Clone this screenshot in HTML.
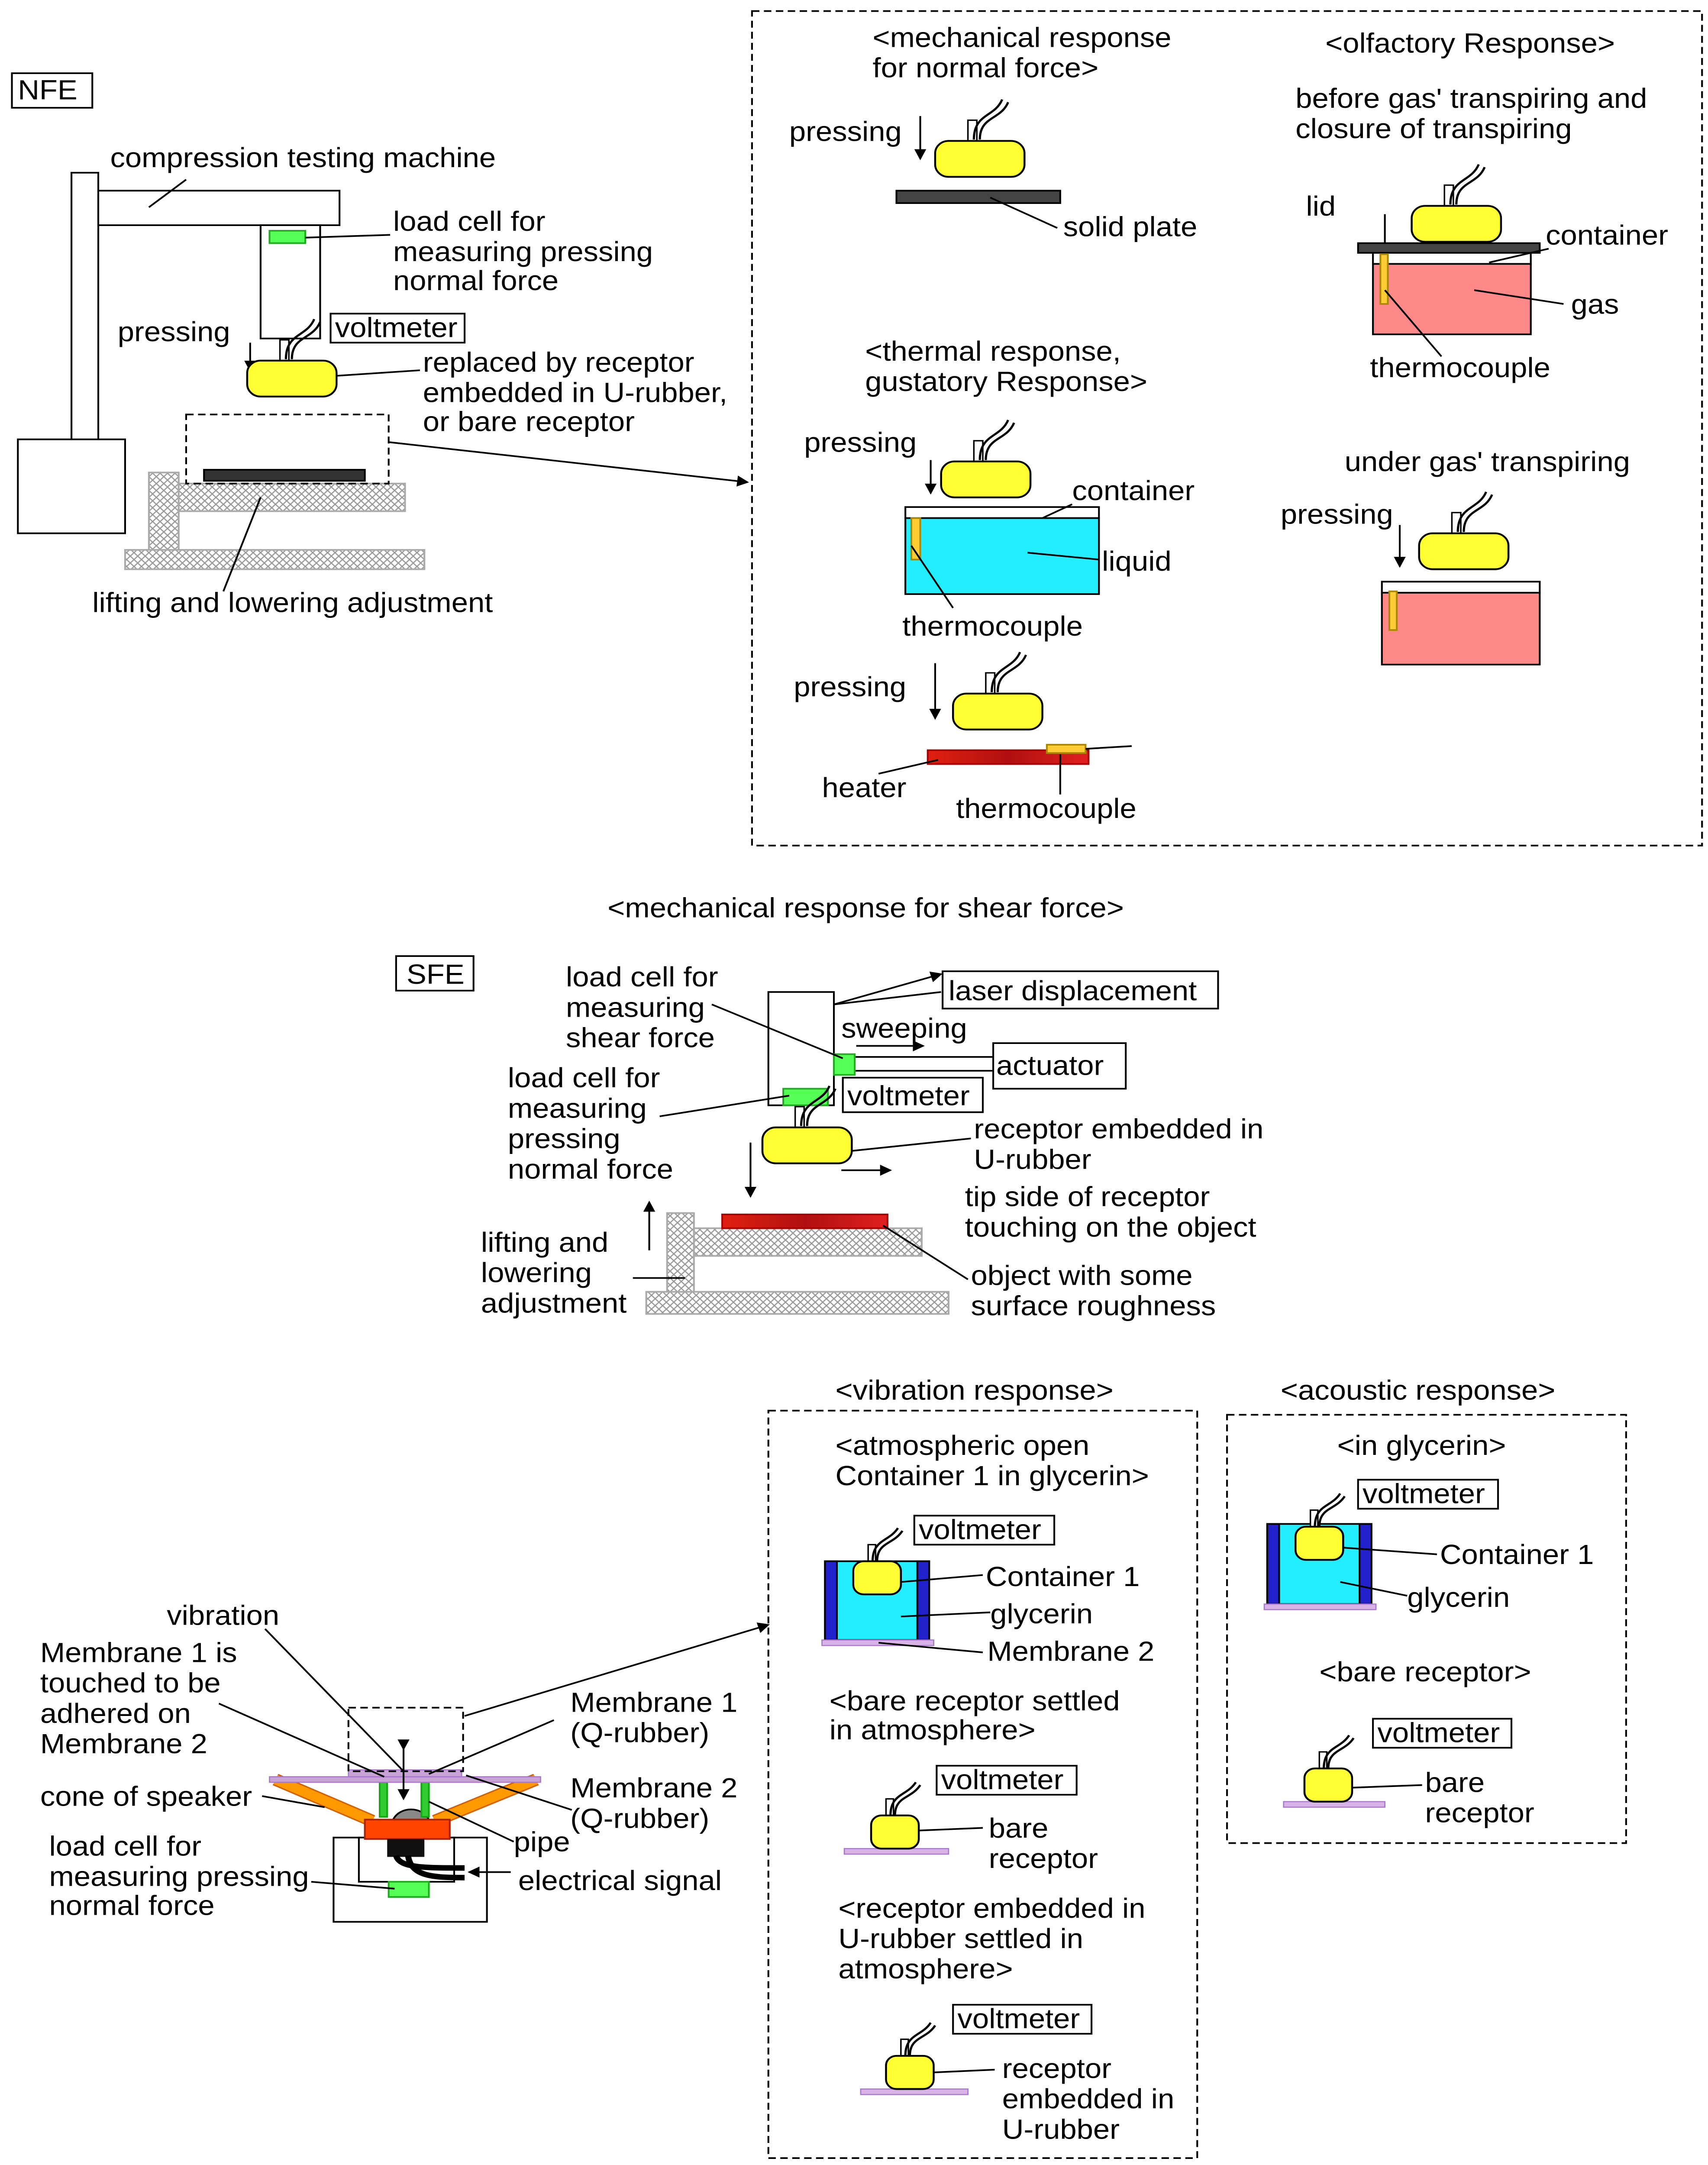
<!DOCTYPE html>
<html><head><meta charset="utf-8"><style>
html,body{margin:0;padding:0;background:#fff;width:100%;height:100%;overflow:hidden;}
svg{display:block;width:100vw;height:100vh;}
text{font-family:"Liberation Sans","Noto Sans CJK JP",sans-serif;font-size:20px;fill:#000;}
</style></head><body>
<svg width="3945" height="5390" viewBox="0 0 1147 1567" preserveAspectRatio="none" xmlns="http://www.w3.org/2000/svg">
<defs>
<pattern id="h" width="5" height="5" patternUnits="userSpaceOnUse">
<rect width="5" height="5" fill="#fff"/>
<path d="M0 0L5 5M5 0L0 5" stroke="#999" stroke-width="0.8"/>
</pattern>
<linearGradient id="red" x1="0" x2="1"><stop offset="0" stop-color="#e02010"/><stop offset="0.5" stop-color="#b01010"/><stop offset="1" stop-color="#e02020"/></linearGradient>
<marker id="a" markerWidth="8" markerHeight="8" refX="7" refY="4" orient="auto" markerUnits="userSpaceOnUse"><path d="M0 0L8 4L0 8z" fill="#000"/></marker>
<g id="rec">
<path d="M-8 -12 L-8 -28 L-2 -28 L-2 -12" fill="#fff" stroke="#000" stroke-width="1"/>
<path d="M-4 -14 C-4 -33 10 -30 15 -43 M0 -14 C0 -31 14 -28 19 -41" fill="none" stroke="#000" stroke-width="1.5"/>
<rect x="-30" y="-13" width="60" height="26" rx="9" fill="#ffff33" stroke="#000" stroke-width="1.3"/>
</g>
<g id="recs">
<path d="M-6 -11 L-6 -24 L-1 -24 L-1 -11" fill="#fff" stroke="#000" stroke-width="1"/>
<path d="M-3 -12 C-3 -28 8 -26 14 -36 M0 -12 C0 -26 11 -24 17 -34" fill="none" stroke="#000" stroke-width="1.5"/>
<rect x="-16" y="-12" width="32" height="24" rx="7" fill="#ffff33" stroke="#000" stroke-width="1.3"/>
</g>
</defs>
<g stroke="#000" stroke-width="1.2" fill="none">
<rect x="8" y="53" width="54" height="25" fill="#fff"/>
<rect x="48" y="125" width="18" height="195" fill="#fff"/>
<rect x="12" y="318" width="72" height="68" fill="#fff"/>
<rect x="66" y="138" width="162" height="25" fill="#fff"/>
<rect x="175" y="163" width="40" height="82" fill="#fff"/>
<rect x="181" y="167" width="24" height="9" fill="#5f5" stroke="#2a2"/>
<line x1="100" y1="150" x2="125" y2="130"/>
<line x1="205" y1="172" x2="262" y2="170"/>
<rect x="100" y="342" width="20" height="68" fill="url(#h)" stroke="#aaa"/>
<rect x="120" y="350" width="152" height="20" fill="url(#h)" stroke="#aaa"/>
<rect x="84" y="398" width="201" height="14" fill="url(#h)" stroke="#aaa"/>
<rect x="137" y="340" width="108" height="8" fill="#333"/>
<rect x="125" y="300" width="136" height="50" stroke-dasharray="5,3"/>
<line x1="261" y1="320" x2="502" y2="349" marker-end="url(#a)"/>
<line x1="168" y1="248" x2="168" y2="268" marker-end="url(#a)"/>
<line x1="175" y1="360" x2="150" y2="428"/>
<line x1="226" y1="272" x2="282" y2="268"/>
<rect x="222" y="227" width="90" height="21" fill="#fff"/>
</g>
<use href="#rec" x="196" y="274"/>
<text x="12" y="72">NFE</text>
<text x="74" y="121">compression testing machine</text>
<text x="264" y="167">load cell for</text>
<text x="264" y="189">measuring pressing</text>
<text x="264" y="210">normal force</text>
<text x="79" y="247">pressing</text>
<text x="225" y="244">voltmeter</text>
<text x="284" y="269">replaced by receptor</text>
<text x="284" y="291">embedded in U-rubber,</text>
<text x="284" y="312">or bare receptor</text>
<text x="62" y="443">lifting and lowering adjustment</text>

<g stroke="#000" stroke-width="1.2" fill="none">
<rect x="505" y="8" width="638" height="604" stroke-dasharray="5,3"/>
<line x1="618" y1="84" x2="618" y2="115" marker-end="url(#a)"/>
<rect x="602" y="138" width="110" height="9" fill="#444"/>
<line x1="665" y1="143" x2="710" y2="165"/>
<line x1="625" y1="333" x2="625" y2="357" marker-end="url(#a)"/>
<rect x="608" y="367" width="130" height="8" fill="#fff"/>
<rect x="608" y="375" width="130" height="55" fill="#2ef" />
<rect x="612" y="375" width="6" height="30" fill="#fc3" stroke="#a80"/>
<line x1="612" y1="395" x2="640" y2="440"/>
<line x1="700" y1="375" x2="720" y2="365"/>
<line x1="690" y1="400" x2="738" y2="405"/>
<line x1="628" y1="480" x2="628" y2="520" marker-end="url(#a)"/>
<rect x="623" y="543" width="108" height="10" fill="url(#red)" stroke="#a00"/>
<rect x="703" y="539" width="26" height="6" fill="#fc3" stroke="#a80"/>
<line x1="729" y1="542" x2="760" y2="540"/>
<line x1="712" y1="546" x2="712" y2="575"/>
<line x1="590" y1="560" x2="630" y2="550"/>
<rect x="912" y="176" width="122" height="7" fill="#444"/>
<rect x="922" y="183" width="106" height="8" fill="#fff"/>
<rect x="922" y="191" width="106" height="51" fill="#f88"/>
<line x1="930" y1="155" x2="930" y2="176"/>
<rect x="927" y="184" width="5" height="36" fill="#fc3" stroke="#a80"/>
<line x1="930" y1="210" x2="968" y2="258"/>
<line x1="1000" y1="190" x2="1040" y2="180"/>
<line x1="990" y1="210" x2="1050" y2="220"/>
<line x1="940" y1="380" x2="940" y2="410" marker-end="url(#a)"/>
<rect x="928" y="421" width="106" height="8" fill="#fff"/>
<rect x="928" y="429" width="106" height="52" fill="#f88"/>
<rect x="933" y="428" width="5" height="28" fill="#fc3" stroke="#a80"/>
</g>
<use href="#rec" x="658" y="115"/>
<use href="#rec" x="662" y="347"/>
<use href="#rec" x="670" y="515"/>
<use href="#rec" x="978" y="162"/>
<use href="#rec" x="983" y="399"/>
<text x="586" y="34">&lt;mechanical response</text>
<text x="586" y="56">for normal force&gt;</text>
<text x="530" y="102">pressing</text>
<text x="714" y="171">solid plate</text>
<text x="581" y="261">&lt;thermal response,</text>
<text x="581" y="283">gustatory Response&gt;</text>
<text x="540" y="327">pressing</text>
<text x="720" y="362">container</text>
<text x="740" y="413">liquid</text>
<text x="606" y="460">thermocouple</text>
<text x="533" y="504">pressing</text>
<text x="552" y="577">heater</text>
<text x="642" y="592">thermocouple</text>
<text x="890" y="38">&lt;olfactory Response&gt;</text>
<text x="870" y="78">before gas' transpiring and</text>
<text x="870" y="100">closure of transpiring</text>
<text x="877" y="156">lid</text>
<text x="1038" y="177">container</text>
<text x="1055" y="227">gas</text>
<text x="920" y="273">thermocouple</text>
<text x="903" y="341">under gas' transpiring</text>
<text x="860" y="379">pressing</text>

<text x="408" y="664">&lt;mechanical response for shear force&gt;</text>
<g stroke="#000" stroke-width="1.2" fill="none">
<rect x="266" y="692" width="52" height="25" fill="#fff"/>
<rect x="516" y="718" width="44" height="82" fill="#fff"/>
<rect x="560" y="765" width="107" height="10" fill="#fff"/>
<rect x="667" y="755" width="89" height="33" fill="#fff"/>
<rect x="633" y="703" width="185" height="27" fill="#fff"/>
<rect x="560" y="763" width="14" height="15" fill="#5f5" stroke="#2a2"/>
<rect x="526" y="788" width="30" height="12" fill="#5f5" stroke="#2a2"/>
<rect x="566" y="780" width="94" height="25" fill="#fff"/>
<line x1="560" y1="727" x2="632" y2="705" marker-end="url(#a)"/>
<line x1="560" y1="727" x2="632" y2="718"/>
<line x1="575" y1="757" x2="620" y2="757" marker-end="url(#a)"/>
<line x1="478" y1="727" x2="566" y2="766"/>
<line x1="443" y1="808" x2="530" y2="793"/>
<line x1="572" y1="833" x2="652" y2="824"/>
<line x1="565" y1="847" x2="598" y2="847" marker-end="url(#a)"/>
<line x1="504" y1="827" x2="504" y2="866" marker-end="url(#a)"/>
<line x1="436" y1="905" x2="436" y2="870" marker-end="url(#a)"/>
<rect x="448" y="878" width="18" height="57" fill="url(#h)" stroke="#aaa"/>
<rect x="466" y="889" width="153" height="20" fill="url(#h)" stroke="#aaa"/>
<rect x="434" y="935" width="203" height="16" fill="url(#h)" stroke="#aaa"/>
<rect x="485" y="879" width="111" height="10" fill="url(#red)" stroke="#a00"/>
<line x1="593" y1="887" x2="650" y2="926"/>
<line x1="425" y1="925" x2="460" y2="925"/>
</g>
<use href="#rec" x="542" y="829"/>
<text x="273" y="712">SFE</text>
<text x="380" y="714">load cell for</text>
<text x="380" y="736">measuring</text>
<text x="380" y="758">shear force</text>
<text x="637" y="724">laser displacement</text>
<text x="565" y="751">sweeping</text>
<text x="669" y="778">actuator</text>
<text x="341" y="787">load cell for</text>
<text x="341" y="809">measuring</text>
<text x="341" y="831">pressing</text>
<text x="341" y="853">normal force</text>
<text x="569" y="800">voltmeter</text>
<text x="654" y="824">receptor embedded in</text>
<text x="654" y="846">U-rubber</text>
<text x="648" y="873">tip side of receptor</text>
<text x="648" y="895">touching on the object</text>
<text x="323" y="906">lifting and</text>
<text x="323" y="928">lowering</text>
<text x="323" y="950">adjustment</text>
<text x="652" y="930">object with some</text>
<text x="652" y="952">surface roughness</text>

<g stroke="#000" stroke-width="1.2" fill="none">
<rect x="224" y="1330" width="103" height="61" fill="#fff"/>
<rect x="241" y="1330" width="64" height="32" fill="#fff"/>
<line x1="185" y1="1288" x2="250" y2="1318" stroke="#d06000" stroke-width="9"/>
<line x1="185" y1="1288" x2="250" y2="1318" stroke="#f90" stroke-width="7"/>
<line x1="360" y1="1288" x2="292" y2="1318" stroke="#d06000" stroke-width="9"/>
<line x1="360" y1="1288" x2="292" y2="1318" stroke="#f90" stroke-width="7"/>
<path d="M264 1317 A13 12 0 0 1 288 1317z" fill="#888"/>
<rect x="245" y="1317" width="57" height="14" fill="#f40" stroke="#a20"/>
<rect x="260" y="1331" width="25" height="13" fill="#111" stroke="none"/>
<path d="M266 1343 C268 1352 285 1352 312 1352 M274 1343 C276 1358 290 1359 312 1359" stroke="#000" stroke-width="4"/>
<rect x="261" y="1362" width="27" height="11" fill="#5f5" stroke="#2a2"/>
<rect x="255" y="1290" width="5" height="25" fill="#3c3" stroke="#1a1"/>
<rect x="283" y="1290" width="5" height="25" fill="#3c3" stroke="#1a1"/>
<rect x="181" y="1286" width="182" height="4" fill="#c9a3d6" stroke="#a7c" stroke-width="0.8"/>
<rect x="234" y="1281" width="76" height="5" fill="#c9a3d6" stroke="#a7c" stroke-width="0.8"/>
<rect x="234" y="1236" width="77" height="46" stroke-dasharray="5,3"/>
<line x1="312" y1="1242" x2="516" y2="1176" marker-end="url(#a)"/>
<line x1="271" y1="1266" x2="271" y2="1302" marker-start="url(#a)" marker-end="url(#a)"/>
<line x1="178" y1="1179" x2="271" y2="1282"/>
<line x1="147" y1="1233" x2="258" y2="1286"/>
<line x1="372" y1="1245" x2="288" y2="1284"/>
<line x1="384" y1="1310" x2="313" y2="1285"/>
<line x1="176" y1="1300" x2="218" y2="1308"/>
<line x1="345" y1="1333" x2="288" y2="1304"/>
<line x1="343" y1="1355" x2="315" y2="1355" marker-end="url(#a)"/>
<line x1="209" y1="1362" x2="265" y2="1367"/>
</g>
<text x="112" y="1176">vibration</text>
<text x="27" y="1203">Membrane 1 is</text>
<text x="27" y="1225">touched to be</text>
<text x="27" y="1247">adhered on</text>
<text x="27" y="1269">Membrane 2</text>
<text x="383" y="1239">Membrane 1</text>
<text x="383" y="1261">(Q-rubber)</text>
<text x="383" y="1301">Membrane 2</text>
<text x="383" y="1323">(Q-rubber)</text>
<text x="27" y="1307">cone of speaker</text>
<text x="345" y="1340">pipe</text>
<text x="33" y="1343">load cell for</text>
<text x="33" y="1365">measuring pressing</text>
<text x="33" y="1386">normal force</text>
<text x="348" y="1368">electrical signal</text>

<text x="561" y="1013">&lt;vibration response&gt;</text>
<text x="860" y="1013">&lt;acoustic response&gt;</text>
<g stroke="#000" stroke-width="1.2" fill="none">
<rect x="516" y="1021" width="288" height="541" stroke-dasharray="5,3"/>
<rect x="824" y="1024" width="268" height="310" stroke-dasharray="5,3"/>
<rect x="554" y="1130" width="70" height="57" fill="#2ef"/>
<rect x="554" y="1130" width="8" height="57" fill="#22c"/>
<rect x="616" y="1130" width="8" height="57" fill="#22c"/>
<rect x="552" y="1187" width="75" height="4" fill="#d9b3e6" stroke="#a7c" stroke-width="0.8"/>
<line x1="605" y1="1145" x2="660" y2="1140"/>
<line x1="605" y1="1170" x2="665" y2="1167"/>
<line x1="590" y1="1189" x2="660" y2="1196"/>
<rect x="614" y="1097" width="94" height="21" fill="#fff"/>
<rect x="567" y="1338" width="70" height="4" fill="#d9b3e6" stroke="#a7c" stroke-width="0.8"/>
<rect x="629" y="1278" width="94" height="21" fill="#fff"/>
<line x1="615" y1="1325" x2="660" y2="1323"/>
<rect x="578" y="1512" width="72" height="4" fill="#d9b3e6" stroke="#a7c" stroke-width="0.8"/>
<rect x="640" y="1451" width="93" height="21" fill="#fff"/>
<line x1="627" y1="1500" x2="668" y2="1498"/>
<rect x="851" y="1103" width="70" height="58" fill="#2ef"/>
<rect x="851" y="1103" width="8" height="58" fill="#22c"/>
<rect x="913" y="1103" width="8" height="58" fill="#22c"/>
<rect x="849" y="1161" width="75" height="4" fill="#d9b3e6" stroke="#a7c" stroke-width="0.8"/>
<rect x="912" y="1071" width="94" height="21" fill="#fff"/>
<line x1="900" y1="1120" x2="965" y2="1125"/>
<line x1="900" y1="1145" x2="945" y2="1155"/>
<rect x="862" y="1304" width="68" height="4" fill="#d9b3e6" stroke="#a7c" stroke-width="0.8"/>
<rect x="922" y="1244" width="93" height="21" fill="#fff"/>
<line x1="905" y1="1294" x2="955" y2="1292"/>
</g>
<use href="#recs" x="589" y="1142"/>
<use href="#recs" x="601" y="1326"/>
<use href="#recs" x="611" y="1500"/>
<use href="#recs" x="886" y="1117"/>
<use href="#recs" x="892" y="1292"/>
<text x="561" y="1053">&lt;atmospheric open</text>
<text x="561" y="1075">Container 1 in glycerin&gt;</text>
<text x="617" y="1114">voltmeter</text>
<text x="662" y="1148">Container 1</text>
<text x="665" y="1175">glycerin</text>
<text x="663" y="1202">Membrane 2</text>
<text x="557" y="1238">&lt;bare receptor settled</text>
<text x="557" y="1259">in atmosphere&gt;</text>
<text x="632" y="1295">voltmeter</text>
<text x="664" y="1330">bare</text>
<text x="664" y="1352">receptor</text>
<text x="563" y="1388">&lt;receptor embedded in</text>
<text x="563" y="1410">U-rubber settled in</text>
<text x="563" y="1432">atmosphere&gt;</text>
<text x="643" y="1468">voltmeter</text>
<text x="673" y="1504">receptor</text>
<text x="673" y="1526">embedded in</text>
<text x="673" y="1548">U-rubber</text>
<text x="898" y="1053">&lt;in glycerin&gt;</text>
<text x="915" y="1088">voltmeter</text>
<text x="967" y="1132">Container 1</text>
<text x="945" y="1163">glycerin</text>
<text x="886" y="1217">&lt;bare receptor&gt;</text>
<text x="925" y="1261">voltmeter</text>
<text x="957" y="1297">bare</text>
<text x="957" y="1319">receptor</text>
</svg>
</body></html>
